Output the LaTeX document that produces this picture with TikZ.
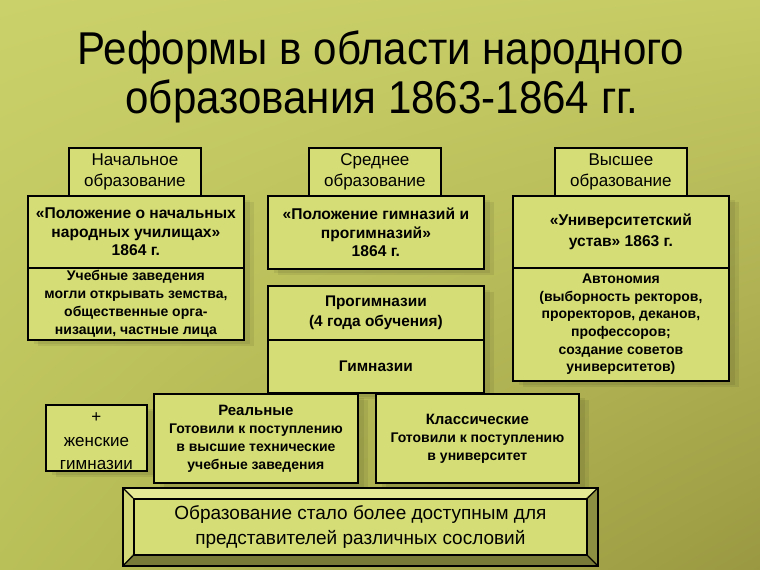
\documentclass[tikz,border=0pt]{standalone}
\usepackage{fontspec}
\setmainfont{Liberation Sans}
\usetikzlibrary{shadings}
\definecolor{bgUL}{RGB}{203,209,106}
\definecolor{bgUR}{RGB}{198,203,100}
\definecolor{bgLL}{RGB}{186,192,88}
\definecolor{bgLR}{RGB}{154,153,66}
\definecolor{boxfill}{RGB}{213,221,118}
\definecolor{bevlight}{RGB}{228,234,150}
\definecolor{bevmid}{RGB}{210,217,118}
\definecolor{bevdark}{RGB}{140,142,66}
\definecolor{bevdarker}{RGB}{120,122,55}
\newcommand{\hdrfont}{\fontsize{17}{21.5}\selectfont}
\newcommand{\bldfont}{\fontsize{14}{18}\selectfont\bfseries}
\newcommand{\bigbld}{\fontsize{15.6}{18.6}\selectfont\bfseries}
\newcommand{\ttlscale}[1]{\scalebox{0.915}[1]{#1}}
\begin{document}
\begin{tikzpicture}[x=1pt,y=-1pt,
  box/.style={draw=black,line width=1.8pt,fill=boxfill,inner sep=0pt,anchor=north west,align=center,font=\bldfont},
  sbox/.style={box,
    preaction={fill=black,opacity=0.07,transform canvas={xshift=10pt,yshift=-6pt}},
    preaction={fill=black,opacity=0.07,transform canvas={xshift=6pt,yshift=-4pt}}},
  hdr/.style={box,font=\hdrfont},
  ttl/.style={font=\fontsize{46}{49}\selectfont,anchor=base,inner sep=0pt},
  bevface/.style={draw=black,line width=1.2pt}]
\useasboundingbox (0,0) rectangle (760,570);
\shade[upper left=bgUL,upper right=bgUR,lower left=bgLL,lower right=bgLR] (0,0) rectangle (760,570);

% title
\node[ttl] (title1) at (381,64) {\ttlscale{Реформы в области народного}};
\node[ttl] (title2) at (382,113) {\ttlscale{образования 1863-1864 гг.}};

% left column
\node[sbox,minimum width=216,minimum height=72,font=\bigbld] (polnach) at (27,195)
  {«Положение о начальных\\народных училищах»\\1864 г.};
\node[sbox,minimum width=216,minimum height=72] (uch) at (27,267)
  {Учебные заведения\\могли открывать земства,\\общественные орга-\\низации, частные лица};
\node[hdr,minimum width=132,minimum height=48] (nach) at (68,147)
  {Начальное\\образование};

% middle column
\node[sbox,minimum width=216,minimum height=73,font=\bigbld] (polgim) at (267,195)
  {«Положение гимназий и\\прогимназий»\\1864 г.};
\node[hdr,minimum width=132,minimum height=48] (sred) at (308,147)
  {Среднее\\образование};
\node[sbox,minimum width=216,minimum height=107] (gimall) at (267,285) {};
\node[box,minimum width=216,minimum height=54,font=\fontsize{15.4}{20}\selectfont\bfseries] (progim) at (267,285)
  {Прогимназии\\(4 года обучения)};
\node[box,minimum width=216,minimum height=53,font=\fontsize{15.4}{20}\selectfont\bfseries] (gim) at (267,339)
  {Гимназии};

% right column
\node[sbox,minimum width=216,minimum height=72,font=\fontsize{15.6}{21}\selectfont\bfseries] (ustav) at (512,195)
  {«Университетский\\устав» 1863 г.};
\node[sbox,minimum width=216,minimum height=113,font=\fontsize{14}{17.6}\selectfont\bfseries] (avto) at (512,267)
  {Автономия\\(выборность ректоров,\\проректоров, деканов,\\профессоров;\\создание советов\\университетов)};
\node[hdr,minimum width=132,minimum height=48] (vyssh) at (554,147)
  {Высшее\\образование};

% bottom row
\node[sbox,minimum width=101,minimum height=66,font=\fontsize{17}{23.5}\selectfont] (zhen) at (45,404)
  {\raisebox{0pt}[17pt][0pt]{+}\\женские\\гимназии};
\node[sbox,minimum width=204,minimum height=89] (real) at (153,393)
  {{\fontsize{15}{18}\selectfont Реальные}\\Готовили к поступлению\\в высшие технические\\учебные заведения};
\node[sbox,minimum width=203,minimum height=89] (klass) at (375,393)
  {{\fontsize{15}{18}\selectfont Классические}\\Готовили к поступлению\\в университет};

% bevelled result box
\node[draw=black,line width=1.8pt,inner sep=0pt,anchor=north west,minimum width=473,minimum height=76] (resout) at (123,488) {};
\fill[bevlight] (resout.north west) -- (resout.north east) -- (586,498) -- (133,498) -- cycle;
\fill[bevmid] (resout.north west) -- (133,498) -- (133,554) -- (resout.south west) -- cycle;
\fill[bevdark] (resout.north east) -- (resout.south east) -- (586,554) -- (586,498) -- cycle;
\fill[bevdarker] (resout.south west) -- (133,554) -- (586,554) -- (resout.south east) -- cycle;
\node[box,minimum width=453,minimum height=56,font=\fontsize{19}{25}\selectfont] (res) at (133,498)
  {Образование стало более доступным для\\представителей различных сословий};
\draw[bevface] (resout.north west) -- (res.north west);
\draw[bevface] (resout.north east) -- (res.north east);
\draw[bevface] (resout.south east) -- (res.south east);
\draw[bevface] (resout.south west) -- (res.south west);
\draw[black,line width=1.8pt] (resout.north west) rectangle (resout.south east);
\end{tikzpicture}
\end{document}
